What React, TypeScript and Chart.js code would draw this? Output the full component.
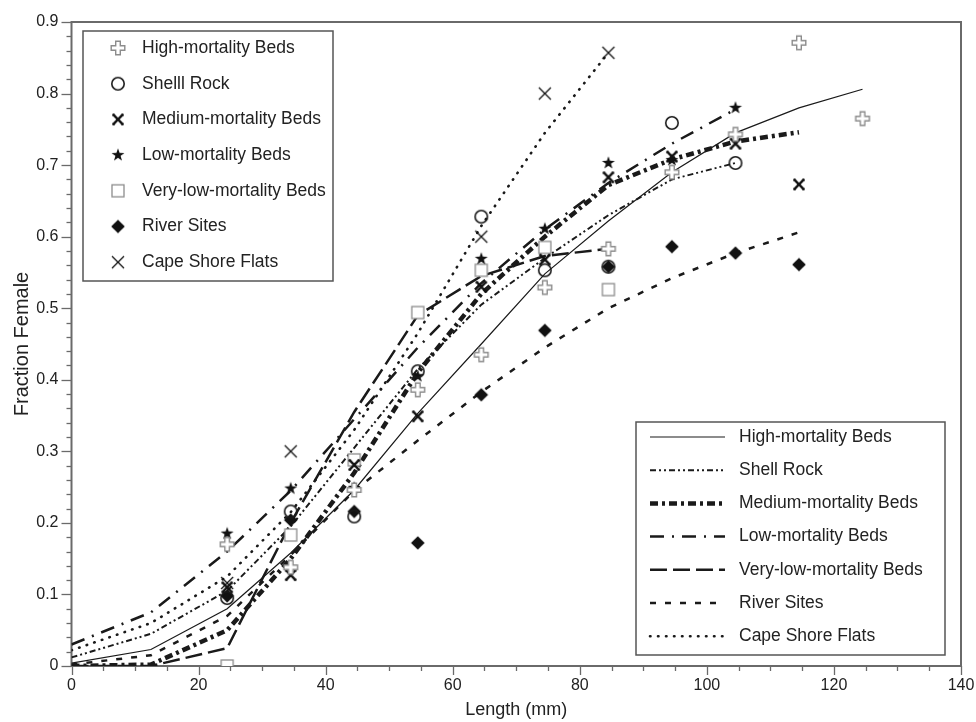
import React, { useEffect, useRef } from "react";
import { Chart, registerables } from "chart.js";

Chart.register(...registerables);

// ---------- data ----------
const markerNames = [
  "High-mortality Beds",
  "Shelll Rock",
  "Medium-mortality Beds",
  "Low-mortality Beds",
  "Very-low-mortality Beds",
  "River Sites",
  "Cape Shore Flats",
];
const curveNames = [
  "High-mortality Beds",
  "Shell Rock",
  "Medium-mortality Beds",
  "Low-mortality Beds",
  "Very-low-mortality Beds",
  "River Sites",
  "Cape Shore Flats",
];

const highLen = [24.5, 34.5, 44.5, 54.5, 64.5, 74.5, 84.5, 94.5, 104.5, 114.5, 124.5];
const highObs = [0.17, 0.138, 0.246, 0.386, 0.435, 0.529, 0.583, 0.69, 0.743, 0.871, 0.765];
const shellLen = [24.5, 34.5, 44.5, 54.5, 64.5, 74.5, 84.5, 94.5, 104.5];
const shellObs = [0.095, 0.216, 0.209, 0.412, 0.628, 0.553, 0.558, 0.759, 0.703];
const mediumLen = [24.5, 34.5, 44.5, 54.5, 64.5, 74.5, 84.5, 94.5, 104.5, 114.5];
const mediumObs = [0.11, 0.127, 0.281, 0.349, 0.53, 0.568, 0.683, 0.712, 0.73, 0.673];
const lowLen = [24.5, 34.5, 44.5, 54.5, 64.5, 74.5, 84.5, 94.5, 104.5];
const lowObs = [0.185, 0.248, 0.249, 0.405, 0.569, 0.611, 0.703, 0.707, 0.78];
const veryLowLen = [24.5, 34.5, 44.5, 54.5, 64.5, 74.5, 84.5];
const veryLowObs = [0, 0.183, 0.288, 0.494, 0.553, 0.585, 0.526];
const riverLen = [24.5, 34.5, 44.5, 54.5, 64.5, 74.5, 84.5, 94.5, 104.5, 114.5];
const riverObs = [0.098, 0.204, 0.216, 0.172, 0.379, 0.469, 0.558, 0.586, 0.577, 0.561];
const capeLen = [24.5, 34.5, 64.5, 74.5, 84.5];
const capeObs = [0.116, 0.3, 0.6, 0.8, 0.857];

const curveLen = [0, 12.5, 24.5, 34.5, 44.5, 54.5, 64.5, 74.5, 84.5, 94.5, 104.5, 114.5, 124.5];
const highFit = [0.004, 0.023, 0.08, 0.158, 0.246, 0.353, 0.45, 0.548, 0.622, 0.69, 0.745, 0.78, 0.806];
const shellFit = [0.012, 0.045, 0.105, 0.195, 0.305, 0.415, 0.505, 0.57, 0.63, 0.68, 0.703];
const mediumFit = [0, 0.002, 0.05, 0.15, 0.27, 0.41, 0.52, 0.6, 0.672, 0.708, 0.733, 0.746];
const lowFit = [0.03, 0.075, 0.16, 0.245, 0.345, 0.445, 0.535, 0.61, 0.675, 0.73, 0.778];
const veryLowFit = [0, 0, 0.025, 0.2, 0.355, 0.49, 0.545, 0.573, 0.583];
const riverFit = [0.002, 0.015, 0.07, 0.155, 0.245, 0.315, 0.383, 0.445, 0.5, 0.542, 0.577, 0.606];
const capeFit = [0.022, 0.06, 0.125, 0.215, 0.33, 0.465, 0.615, 0.745, 0.857];

const xTickStep = 20;
const xMinorStep = 5;
const yTickStep = 0.1;
const yMinorStep = 0.02;

// ---------- styles ----------
const FONT = '"Liberation Sans", Arial, Helvetica, sans-serif';
const TEXT = "#222";
const AXIS = "#6a6a6a";

type MarkerKind = "cross" | "circle" | "boldx" | "star" | "square" | "diamond" | "thinx";
const markerKinds: MarkerKind[] = ["cross", "circle", "boldx", "star", "square", "diamond", "thinx"];

const curveStyles = [
  { dash: [] as number[], width: 1.2, cap: "butt" },
  { dash: [6, 3, 2, 3, 2, 3], width: 2, cap: "butt" },
  { dash: [8, 4, 3, 4], width: 4.5, cap: "butt" },
  { dash: [14, 8, 2, 8], width: 2.5, cap: "butt" },
  { dash: [17, 6], width: 2.5, cap: "butt" },
  { dash: [6, 9], width: 2.5, cap: "butt" },
  { dash: [0.5, 7.5], width: 2.6, cap: "round" },
];

function makeMarker(kind: MarkerKind): HTMLCanvasElement {
  const c = document.createElement("canvas");
  c.width = 18;
  c.height = 18;
  const g = c.getContext("2d")!;
  g.translate(9, 9);
  if (kind === "cross") {
    const a = 6.8, w = 2.3;
    g.beginPath();
    g.moveTo(-w, -a); g.lineTo(w, -a); g.lineTo(w, -w); g.lineTo(a, -w);
    g.lineTo(a, w); g.lineTo(w, w); g.lineTo(w, a); g.lineTo(-w, a);
    g.lineTo(-w, w); g.lineTo(-a, w); g.lineTo(-a, -w); g.lineTo(-w, -w);
    g.closePath();
    g.fillStyle = "#fff";
    g.fill();
    g.strokeStyle = "#8c8c8c";
    g.lineWidth = 1.4;
    g.stroke();
  } else if (kind === "circle") {
    g.beginPath();
    g.arc(0, 0, 6.2, 0, Math.PI * 2);
    g.strokeStyle = "#1a1a1a";
    g.lineWidth = 1.6;
    g.stroke();
  } else if (kind === "boldx") {
    g.strokeStyle = "#111";
    g.lineWidth = 2.4;
    g.beginPath();
    g.moveTo(-3.8, -3.8); g.lineTo(3.8, 3.8);
    g.moveTo(3.8, -3.8); g.lineTo(-3.8, 3.8);
    g.stroke();
    g.fillStyle = "#111";
    const e = 4.4;
    for (const [sx, sy] of [[-1, -1], [1, -1], [1, 1], [-1, 1]]) {
      g.beginPath();
      g.arc(sx * e, sy * e, 1.5, 0, Math.PI * 2);
      g.fill();
    }
  } else if (kind === "star") {
    g.beginPath();
    for (let i = 0; i < 10; i++) {
      const r = i % 2 === 0 ? 6.8 : 2.7;
      const ang = -Math.PI / 2 + (i * Math.PI) / 5;
      const px = r * Math.cos(ang), py = r * Math.sin(ang);
      if (i === 0) g.moveTo(px, py); else g.lineTo(px, py);
    }
    g.closePath();
    g.fillStyle = "#111";
    g.fill();
  } else if (kind === "square") {
    g.fillStyle = "#fff";
    g.fillRect(-6, -6, 12, 12);
    g.strokeStyle = "#8c8c8c";
    g.lineWidth = 1.3;
    g.strokeRect(-6, -6, 12, 12);
  } else if (kind === "diamond") {
    g.beginPath();
    g.moveTo(0, -6.8); g.lineTo(6.8, 0); g.lineTo(0, 6.8); g.lineTo(-6.8, 0);
    g.closePath();
    g.fillStyle = "#111";
    g.fill();
  } else if (kind === "thinx") {
    g.strokeStyle = "#111";
    g.lineWidth = 1.3;
    g.beginPath();
    g.moveTo(-6, -6); g.lineTo(6, 6);
    g.moveTo(6, -6); g.lineTo(-6, 6);
    g.stroke();
  }
  return c;
}

const obsLens = [highLen, shellLen, mediumLen, lowLen, veryLowLen, riverLen, capeLen];
const obsVals = [highObs, shellObs, mediumObs, lowObs, veryLowObs, riverObs, capeObs];
const fitVals = [highFit, shellFit, mediumFit, lowFit, veryLowFit, riverFit, capeFit];

const framePlugin = {
  id: "frame",
  beforeDatasetsDraw(chart: any) {
    const { ctx, chartArea } = chart;
    const { left, right, top, bottom } = chartArea;
    const xs = chart.scales.x;
    const ys = chart.scales.y;
    ctx.save();
    ctx.strokeStyle = AXIS;
    ctx.lineWidth = 1.3;
    for (let v = 0; v <= 140 + 1e-9; v += xMinorStep) {
      const px = Math.round(xs.getPixelForValue(v)) + 0.5;
      const major = Math.abs(v / xTickStep - Math.round(v / xTickStep)) < 1e-6;
      ctx.beginPath();
      ctx.moveTo(px, bottom);
      ctx.lineTo(px, bottom + (major ? 9 : 5));
      ctx.stroke();
    }
    for (let i = 0; i <= Math.round(0.9 / yMinorStep); i++) {
      const v = i * yMinorStep;
      const py = Math.round(ys.getPixelForValue(v)) + 0.5;
      const major = i % Math.round(yTickStep / yMinorStep) === 0;
      ctx.beginPath();
      ctx.moveTo(left, py);
      ctx.lineTo(left - (major ? 10 : 5), py);
      ctx.stroke();
    }
    ctx.lineWidth = 2;
    ctx.strokeRect(left, top, right - left, bottom - top);
    ctx.restore();
  },
};

const legendPlugin = {
  id: "twoLegends",
  afterDatasetsDraw(chart: any) {
    const { ctx } = chart;
    ctx.save();
    const b1 = { x: 83, y: 31, w: 250, h: 250 };
    ctx.fillStyle = "#fff";
    ctx.fillRect(b1.x, b1.y, b1.w, b1.h);
    ctx.strokeStyle = "#555";
    ctx.lineWidth = 1.5;
    ctx.strokeRect(b1.x, b1.y, b1.w, b1.h);
    ctx.font = `17.5px ${FONT}`;
    ctx.textBaseline = "middle";
    ctx.textAlign = "left";
    ctx.fillStyle = TEXT;
    for (let i = 0; i < markerNames.length; i++) {
      const ds = chart.data.datasets[i];
      const img = ds.pointStyle as HTMLCanvasElement;
      const cy = 48 + i * 35.7;
      ctx.drawImage(img, 118 - img.width / 2, cy - img.height / 2);
      ctx.fillStyle = TEXT;
      ctx.fillText(markerNames[i], 142, cy);
    }
    const b2 = { x: 636, y: 422, w: 309, h: 233 };
    ctx.fillStyle = "#fff";
    ctx.fillRect(b2.x, b2.y, b2.w, b2.h);
    ctx.strokeStyle = "#555";
    ctx.lineWidth = 1.5;
    ctx.strokeRect(b2.x, b2.y, b2.w, b2.h);
    for (let i = 0; i < curveNames.length; i++) {
      const ds = chart.data.datasets[7 + i];
      const cy = 437 + i * 33.2;
      ctx.save();
      ctx.strokeStyle = ds.borderColor;
      ctx.lineWidth = ds.borderWidth;
      ctx.setLineDash(ds.borderDash || []);
      ctx.lineCap = ds.borderCapStyle || "butt";
      ctx.beginPath();
      ctx.moveTo(650, cy);
      ctx.lineTo(725, cy);
      ctx.stroke();
      ctx.restore();
      ctx.fillStyle = TEXT;
      ctx.fillText(curveNames[i], 739, cy);
    }
    ctx.restore();
  },
};

export default function App() {
  const ref = useRef<HTMLCanvasElement | null>(null);
  useEffect(() => {
    document.body.style.margin = "0";
    const canvas = ref.current!;
    const markerSets = markerNames.map((name, i) => ({
      label: name,
      data: obsLens[i].map((x, j) => ({ x, y: obsVals[i][j] })),
      showLine: false,
      pointStyle: makeMarker(markerKinds[i]),
      pointRadius: 7,
      pointHoverRadius: 7,
      order: 0,
    }));
    const curveSets = curveNames.map((name, i) => ({
      label: name,
      data: fitVals[i].map((y, j) => ({ x: curveLen[j], y })),
      showLine: true,
      pointRadius: 0,
      borderColor: "#1a1a1a",
      borderWidth: curveStyles[i].width,
      borderDash: curveStyles[i].dash,
      borderCapStyle: curveStyles[i].cap,
      tension: 0,
      fill: false,
      order: 1,
    }));
    const chart = new Chart(canvas, {
      type: "scatter",
      data: { datasets: [...markerSets, ...curveSets] as any },
      options: {
        animation: false,
        responsive: false,
        maintainAspectRatio: false,
        devicePixelRatio: 1,
        layout: { padding: { top: 22, right: 15, left: 0, bottom: 0 } },
        plugins: { legend: { display: false }, tooltip: { enabled: false } },
        scales: {
          x: {
            type: "linear",
            min: 0,
            max: 140,
            ticks: {
              stepSize: xTickStep,
              color: TEXT,
              font: { family: FONT, size: 16 },
              padding: 10,
              maxRotation: 0,
            },
            grid: { display: false, drawTicks: false },
            border: { display: false },
            title: {
              display: true,
              text: "Length (mm)",
              color: TEXT,
              font: { family: FONT, size: 18 },
              padding: { top: 0, bottom: 1 },
            },
            afterFit: (s: any) => { s.height = 56; s.paddingLeft = 0; s.paddingRight = 0; },
          },
          y: {
            type: "linear",
            min: 0,
            max: 0.9,
            ticks: {
              stepSize: yTickStep,
              color: TEXT,
              font: { family: FONT, size: 16 },
              padding: 13,
              callback: (v: any) => String(Math.round(Number(v) * 10) / 10),
            },
            grid: { display: false, drawTicks: false },
            border: { display: false },
            title: {
              display: true,
              text: "Fraction Female",
              color: TEXT,
              font: { family: FONT, size: 20 },
              padding: { top: 10, bottom: 0 },
            },
            afterFit: (s: any) => { s.width = 71.5; s.paddingTop = 0; s.paddingBottom = 0; },
          },
        },
      },
      plugins: [framePlugin, legendPlugin],
    });
    return () => chart.destroy();
  }, []);
  return (
    <div style={{ position: "absolute", left: 0, top: 0, width: 976, height: 722, background: "#fff" }}>
      <canvas ref={ref} width={976} height={722} style={{ width: 976, height: 722, display: "block" }} />
    </div>
  );
}
